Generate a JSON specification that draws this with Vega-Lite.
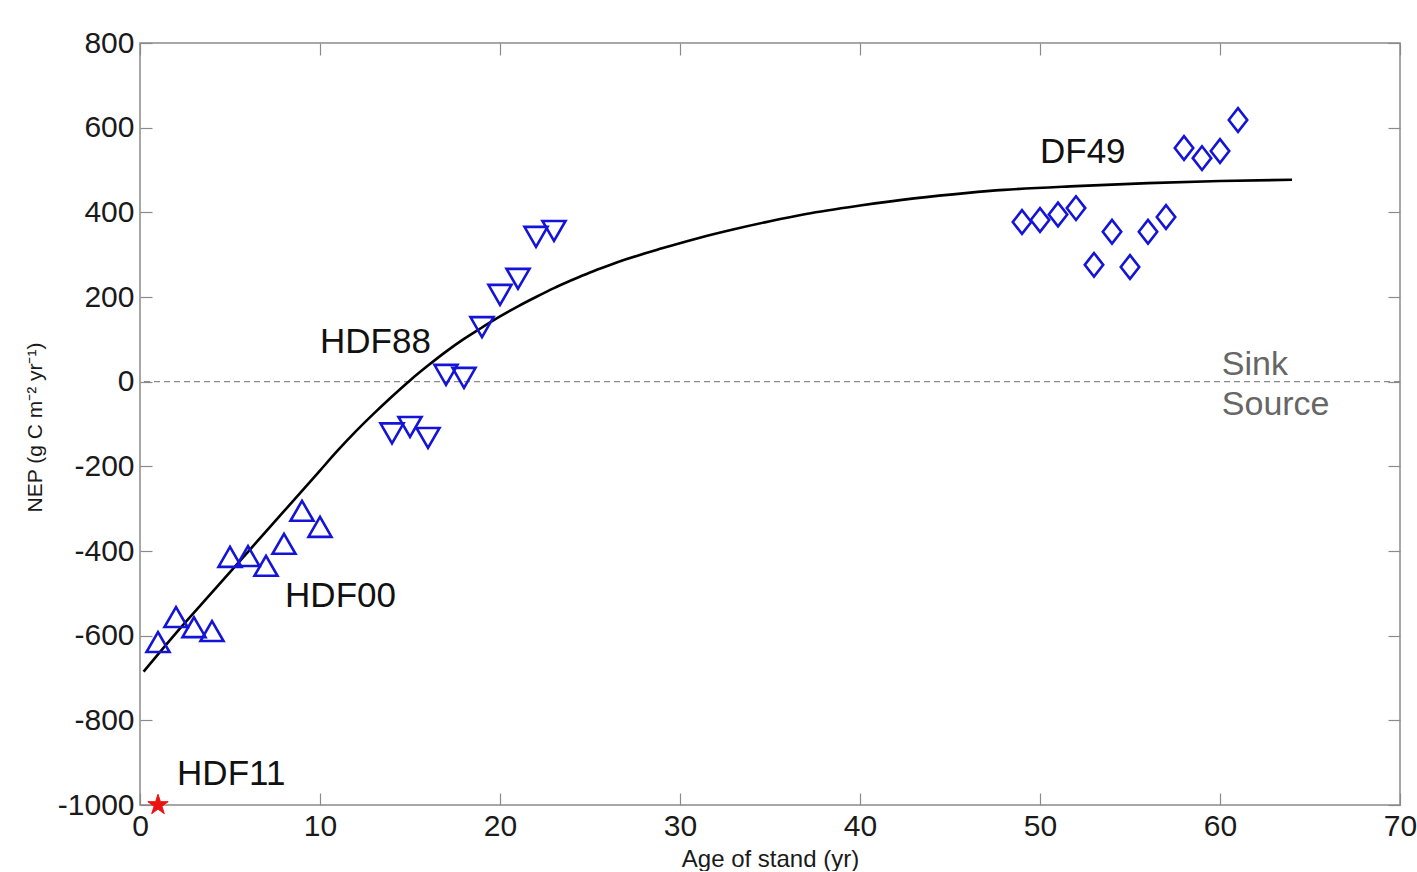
{
  "$schema": "https://vega.github.io/schema/vega-lite/v6.json",
  "width": 1260,
  "height": 762,
  "autosize": "none",
  "padding": {"left": 140, "top": 43, "right": 17, "bottom": 66},
  "background": "white",
  "config": {
    "font": "Liberation Sans",
    "view": {"stroke": "#8a8a8a", "strokeWidth": 1.5},
    "axis": {
      "grid": false,
      "domain": false,
      "tickColor": "#8a8a8a",
      "tickSize": -12,
      "tickWidth": 1.2,
      "labelFont": "Liberation Sans",
      "labelFontSize": 30,
      "labelColor": "#1a1a1a",
      "labelExpr": "'' + datum.value",
      "labelFlush": false,
      "labelOverlap": false,
      "titleFont": "Liberation Sans",
      "titleFontWeight": "normal",
      "titleColor": "#1a1a1a"
    }
  },
  "datasets": {
    "pts": [
      {"age": 1, "nep": -615, "site": "HDF00"},
      {"age": 2, "nep": -556, "site": "HDF00"},
      {"age": 3, "nep": -580, "site": "HDF00"},
      {"age": 4, "nep": -589, "site": "HDF00"},
      {"age": 5, "nep": -414, "site": "HDF00"},
      {"age": 6, "nep": -412, "site": "HDF00"},
      {"age": 7, "nep": -435, "site": "HDF00"},
      {"age": 8, "nep": -383, "site": "HDF00"},
      {"age": 9, "nep": -305, "site": "HDF00"},
      {"age": 10, "nep": -343, "site": "HDF00"},
      {"age": 14, "nep": -122, "site": "HDF88"},
      {"age": 15, "nep": -107, "site": "HDF88"},
      {"age": 16, "nep": -133, "site": "HDF88"},
      {"age": 17, "nep": 16, "site": "HDF88"},
      {"age": 18, "nep": 9, "site": "HDF88"},
      {"age": 19, "nep": 129, "site": "HDF88"},
      {"age": 20, "nep": 205, "site": "HDF88"},
      {"age": 21, "nep": 243, "site": "HDF88"},
      {"age": 22, "nep": 342, "site": "HDF88"},
      {"age": 23, "nep": 356, "site": "HDF88"},
      {"age": 49, "nep": 377, "site": "DF49"},
      {"age": 50, "nep": 382, "site": "DF49"},
      {"age": 51, "nep": 395, "site": "DF49"},
      {"age": 52, "nep": 410, "site": "DF49"},
      {"age": 53, "nep": 276, "site": "DF49"},
      {"age": 54, "nep": 354, "site": "DF49"},
      {"age": 55, "nep": 271, "site": "DF49"},
      {"age": 56, "nep": 354, "site": "DF49"},
      {"age": 57, "nep": 389, "site": "DF49"},
      {"age": 58, "nep": 552, "site": "DF49"},
      {"age": 59, "nep": 528, "site": "DF49"},
      {"age": 60, "nep": 545, "site": "DF49"},
      {"age": 61, "nep": 618, "site": "DF49"},
      {"age": 1, "nep": -1000, "site": "HDF11"}
    ],
    "curve": [
      {"age": 0.2, "nep": -685},
      {"age": 2, "nep": -594},
      {"age": 4, "nep": -498},
      {"age": 6, "nep": -402},
      {"age": 8, "nep": -306},
      {"age": 10, "nep": -210},
      {"age": 11, "nep": -162},
      {"age": 12, "nep": -117},
      {"age": 13, "nep": -75},
      {"age": 14, "nep": -35},
      {"age": 15, "nep": 3},
      {"age": 16, "nep": 38},
      {"age": 17, "nep": 71},
      {"age": 18, "nep": 101},
      {"age": 19, "nep": 128},
      {"age": 20, "nep": 154},
      {"age": 21, "nep": 178},
      {"age": 22, "nep": 200},
      {"age": 23, "nep": 221},
      {"age": 24, "nep": 240},
      {"age": 25, "nep": 258},
      {"age": 26, "nep": 274},
      {"age": 27, "nep": 289},
      {"age": 29, "nep": 315},
      {"age": 31, "nep": 339},
      {"age": 33, "nep": 360},
      {"age": 35, "nep": 379},
      {"age": 37, "nep": 396},
      {"age": 40, "nep": 416},
      {"age": 43, "nep": 433},
      {"age": 46, "nep": 446},
      {"age": 48, "nep": 453},
      {"age": 52, "nep": 462},
      {"age": 56, "nep": 469},
      {"age": 60, "nep": 474},
      {"age": 64, "nep": 477}
    ],
    "labels": [
      {"age": 8.06, "nep": -532, "text": "HDF00"},
      {"age": 2.06, "nep": -953, "text": "HDF11"},
      {"age": 10.0, "nep": 68, "text": "HDF88"},
      {"age": 50.0, "nep": 517, "text": "DF49"}
    ],
    "zone": [
      {"age": 60.1, "nep": 16, "text": "Sink"},
      {"age": 60.1, "nep": -79, "text": "Source"}
    ],
    "zero": [
      {"nep": 0}
    ]
  },
  "layer": [
    {
      "data": {"name": "zero"},
      "mark": {"type": "rule", "color": "#8a8a8a", "strokeWidth": 1.2, "strokeDash": [6, 4]},
      "encoding": {
        "y": {"field": "nep", "type": "quantitative", "scale": {"domain": [-1000, 800], "nice": false, "zero": false},
          "axis": {"orient": "right", "labels": false, "title": null, "values": [-1000, -800, -600, -400, -200, 0, 200, 400, 600, 800]}}
      }
    },
    {
      "data": {"name": "curve"},
      "mark": {"type": "line", "color": "black", "strokeWidth": 2.6, "interpolate": "monotone"},
      "encoding": {
        "x": {"field": "age", "type": "quantitative", "scale": {"domain": [0, 70], "nice": false, "zero": false},
          "axis": {"orient": "top", "labels": false, "title": null, "values": [0, 10, 20, 30, 40, 50, 60, 70]}},
        "y": {"field": "nep", "type": "quantitative", "axis": null}
      }
    },
    {
      "data": {"name": "pts"},
      "transform": [{"filter": "datum.site === 'HDF00'"}],
      "mark": {"type": "point", "shape": "triangle-up", "size": 530, "filled": false, "stroke": "#1414d8", "strokeWidth": 2.6, "opacity": 1},
      "encoding": {
        "x": {"field": "age", "type": "quantitative",
          "axis": {"orient": "bottom", "values": [0, 10, 20, 30, 40, 50, 60, 70], "labelPadding": 18, "title": "Age of stand (yr)", "titleFontSize": 24, "titleY": 61, "titleBaseline": "alphabetic"}},
        "y": {"field": "nep", "type": "quantitative",
          "axis": {"orient": "left", "values": [-1000, -800, -600, -400, -200, 0, 200, 400, 600, 800], "labelPadding": 18, "title": "NEP (g C m⁻² yr⁻¹)", "titleFontSize": 21, "titleAngle": -90, "titleX": -105, "titleY": 384, "titleBaseline": "middle", "titleAlign": "center"}}
      }
    },
    {
      "data": {"name": "pts"},
      "transform": [{"filter": "datum.site === 'HDF88'"}],
      "mark": {"type": "point", "shape": "triangle-down", "size": 530, "filled": false, "stroke": "#1414d8", "strokeWidth": 2.6, "opacity": 1},
      "encoding": {
        "x": {"field": "age", "type": "quantitative", "axis": null},
        "y": {"field": "nep", "type": "quantitative", "axis": null}
      }
    },
    {
      "data": {"name": "pts"},
      "transform": [{"filter": "datum.site === 'DF49'"}],
      "mark": {"type": "point", "shape": "M-0.78,0L0,-1L0.78,0L0,1Z", "size": 560, "filled": false, "stroke": "#1414d8", "strokeWidth": 2.6, "opacity": 1},
      "encoding": {
        "x": {"field": "age", "type": "quantitative", "axis": null},
        "y": {"field": "nep", "type": "quantitative", "axis": null}
      }
    },
    {
      "data": {"name": "pts"},
      "transform": [{"filter": "datum.site === 'HDF11'"}],
      "mark": {"type": "point", "shape": "M0,-1L0.225,-0.309L0.951,-0.309L0.363,0.118L0.588,0.809L0,0.382L-0.588,0.809L-0.363,0.118L-0.951,-0.309L-0.225,-0.309Z", "size": 460, "filled": true, "fill": "#ee1111", "stroke": "#ee1111", "strokeWidth": 1, "opacity": 1, "clip": false},
      "encoding": {
        "x": {"field": "age", "type": "quantitative", "axis": null},
        "y": {"field": "nep", "type": "quantitative", "axis": null}
      }
    },
    {
      "data": {"name": "labels"},
      "mark": {"type": "text", "align": "left", "baseline": "alphabetic", "fontSize": 35, "color": "#111111", "font": "Liberation Sans"},
      "encoding": {
        "x": {"field": "age", "type": "quantitative", "axis": null},
        "y": {"field": "nep", "type": "quantitative", "axis": null},
        "text": {"field": "text"}
      }
    },
    {
      "data": {"name": "zone"},
      "mark": {"type": "text", "align": "left", "baseline": "alphabetic", "fontSize": 34, "color": "#666666", "font": "Liberation Sans"},
      "encoding": {
        "x": {"field": "age", "type": "quantitative", "axis": null},
        "y": {"field": "nep", "type": "quantitative", "axis": null},
        "text": {"field": "text"}
      }
    }
  ],
  "resolve": {"scale": {"x": "shared", "y": "shared"}, "axis": {"x": "independent", "y": "independent"}}
}
